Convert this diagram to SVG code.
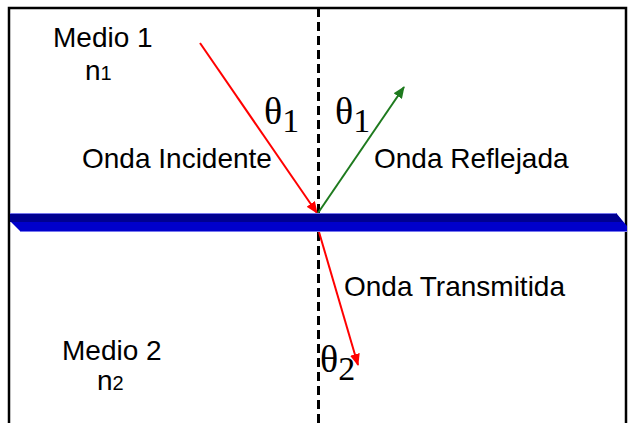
<svg xmlns="http://www.w3.org/2000/svg" width="628" height="423" viewBox="0 0 628 423">
<style>
.lbl{font-family:"Liberation Sans",Arial,sans-serif;font-size:28px;fill:#000}
.sub{font-size:20px}
.th{font-family:"Liberation Serif","DejaVu Serif",serif;font-size:38px;fill:#000}
.ths{font-size:34px}
.ray{stroke-width:2;fill:none}
</style>
<defs>
<marker id="ar" viewBox="0 0 12 10" refX="11" refY="5" markerWidth="12" markerHeight="10" markerUnits="userSpaceOnUse" orient="auto"><path d="M0,0 L12,5 L0,10 Z" fill="#ff0000"/></marker>
<marker id="ag" viewBox="0 0 12 10" refX="11" refY="5" markerWidth="12" markerHeight="10" markerUnits="userSpaceOnUse" orient="auto"><path d="M0,0 L12,5 L0,10 Z" fill="#1e7a1e"/></marker>
</defs>
<rect width="628" height="423" fill="#fff"/>
<path id="frame" d="M9,425 V8 H626 V425" fill="none" stroke="#000" stroke-width="2.5"/>
<line id="normal" x1="318.5" y1="8" x2="318.5" y2="423" stroke="#000" stroke-width="3" stroke-dasharray="9,5"/>
<g id="connectors">
<line class="ray" x1="200" y1="43" x2="317" y2="213" stroke="#ff0000" marker-end="url(#ar)"/>
<line class="ray" x1="318" y1="213" x2="404" y2="87" stroke="#1e7a1e" marker-end="url(#ag)"/>
<line class="ray" x1="319" y1="232" x2="358" y2="365" stroke="#ff0000" marker-end="url(#ar)"/>
</g>
<g id="interface">
<polygon points="10,213 616,213 627,226 627,232 21,232 10,221" fill="#0000cc"/>
<polygon points="10,213 616,213 623,222 10,222" fill="#000090"/>
<line x1="10" y1="213.5" x2="616" y2="213.5" stroke="#7777ee" stroke-width="1"/>
<line x1="21" y1="231.5" x2="627" y2="231.5" stroke="#7777ee" stroke-width="1"/>
</g>
<g id="medio1">
<text class="lbl" x="53" y="47">Medio 1</text>
<text class="lbl" x="85" y="80">n<tspan class="sub">1</tspan></text>
</g>
<g id="medio2">
<text class="lbl" x="62" y="360">Medio 2</text>
<text class="lbl" x="97" y="390">n<tspan class="sub">2</tspan></text>
</g>
<g id="incidente"><text class="lbl" x="82" y="168">Onda Incidente</text></g>
<g id="reflejada"><text class="lbl" x="374" y="168">Onda Reflejada</text></g>
<g id="transmitida"><text class="lbl" x="344" y="296">Onda Transmitida</text></g>
<g id="theta1a"><text class="th" x="264" y="124">θ<tspan class="ths" dy="8">1</tspan></text></g>
<g id="theta1b"><text class="th" x="335" y="124">θ<tspan class="ths" dy="8">1</tspan></text></g>
<g id="theta2"><text class="th" x="320" y="372">θ<tspan class="ths" dy="8">2</tspan></text></g>
</svg>
